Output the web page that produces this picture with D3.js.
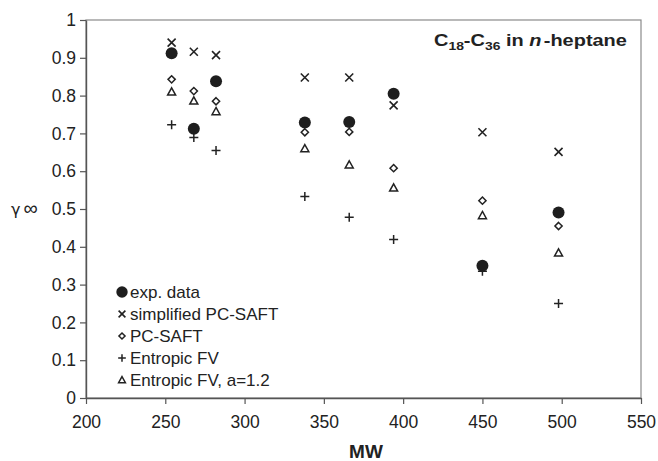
<!DOCTYPE html>
<html>
<head>
<meta charset="utf-8">
<script src="https://cdn.jsdelivr.net/npm/d3@7"></script>
<style>
  body { margin: 0; background: #fff; }
  text { font-family: "Liberation Sans", Arial, sans-serif; fill: #222; }
</style>
</head>
<body>
<div id="chart"></div>
<script>
// molecular weights of the alkanes
var mw = [254, 268, 282, 338, 366, 394, 450, 498];

var expData   = [0.912, 0.712, 0.838, 0.729, 0.730, 0.805, 0.350, 0.491];
var simpSaft  = [0.940, 0.916, 0.907, 0.848, 0.848, 0.774, 0.703, 0.651];
var pcSaft    = [0.843, 0.812, 0.785, 0.703, 0.704, 0.608, 0.522, 0.455];
var entFV     = [0.723, 0.689, 0.655, 0.533, 0.478, 0.419, 0.335, 0.250];
var entFV12   = [0.810, 0.786, 0.758, 0.660, 0.617, 0.556, 0.483, 0.384];

var xTicks = [200, 250, 300, 350, 400, 450, 500, 550];
var yTicks = [0, 0.1, 0.2, 0.3, 0.4, 0.5, 0.6, 0.7, 0.8, 0.9, 1];

var seriesNames = ["exp. data", "simplified PC-SAFT", "PC-SAFT", "Entropic FV", "Entropic FV, a=1.2"];
var seriesKinds = ["circle", "cross", "diamond", "plus", "triangle"];
var seriesVals = [expData, simpSaft, pcSaft, entFV, entFV12];

var width = 658, height = 461;
var plotL = 86, plotR = 641, plotT = 20, plotB = 398;

var svg = d3.select("#chart").append("svg")
    .attr("width", width)
    .attr("height", height);

var x = d3.scaleLinear().domain([200, 550]).range([plotL, plotR]);
var y = d3.scaleLinear().domain([0, 1]).range([plotB, plotT]);

// frame
svg.append("rect")
    .attr("x", plotL).attr("y", plotT)
    .attr("width", plotR - plotL).attr("height", plotB - plotT)
    .attr("fill", "none")
    .attr("stroke", "#8a8a8a")
    .attr("stroke-width", 1.2);

var xAxis = svg.append("g")
    .attr("transform", "translate(0," + plotB + ")")
    .call(d3.axisBottom(x).tickValues(xTicks).tickSize(6).tickPadding(12).tickSizeOuter(0));
var yAxis = svg.append("g")
    .attr("transform", "translate(" + plotL + ",0)")
    .call(d3.axisLeft(y).tickValues(yTicks).tickSize(6).tickPadding(4).tickSizeOuter(0)
        .tickFormat(function(d){ return d === 0 || d === 1 ? d3.format("d")(d) : d3.format(".1f")(d); }));

[xAxis, yAxis].forEach(function(a){
    a.select(".domain").attr("stroke", "#555").attr("stroke-width", 1.4);
    a.selectAll(".tick line").attr("stroke", "#555").attr("stroke-width", 1.2);
    a.selectAll(".tick text")
        .style("font-family", "'Liberation Sans', Arial, sans-serif")
        .style("font-size", "17.5px")
        .attr("fill", "#222");
});

// axis titles
svg.append("text")
    .attr("x", 366)
    .attr("y", 458)
    .attr("text-anchor", "middle")
    .style("font-size", "19px")
    .style("font-weight", "bold")
    .text("MW");

var ylab = svg.append("text")
    .attr("x", 11)
    .attr("y", y(0.5) + 6);
ylab.append("tspan").style("font-family", "'DejaVu Sans', sans-serif").style("font-size", "16px").text("\u03B3");
ylab.append("tspan").attr("dx", 3).style("font-size", "20px").text("\u221E");

// title, stretched to the width it takes in the figure
var titleG = svg.append("g").attr("transform", "translate(434,46)");
var title = titleG.append("text")
    .attr("x", 0).attr("y", 0)
    .style("font-size", "16.5px")
    .style("font-weight", "bold");
title.append("tspan").text("C");
title.append("tspan").attr("dy", 4).style("font-size", "11.5px").text("18");
title.append("tspan").attr("dy", -4).text("-C");
title.append("tspan").attr("dy", 4).style("font-size", "11.5px").text("36");
title.append("tspan").attr("dy", -4).text(" in ");
title.append("tspan").style("font-style", "italic").text("n");
title.append("tspan").attr("dx", 2).text("-heptane");
var tw = title.node().getBBox().width;
titleG.attr("transform", "translate(434,46) scale(" + (193 / tw) + ",1)");

function drawMarker(g, kind, cx, cy, s) {
    var k = s || 1;
    if (kind === "circle") {
        g.append("circle").attr("cx", cx).attr("cy", cy).attr("r", 6 * k)
            .attr("fill", "#1e1e1e");
    } else if (kind === "cross") {
        var a = 4 * k;
        g.append("path")
            .attr("d", "M" + (cx - a) + "," + (cy - a) + "L" + (cx + a) + "," + (cy + a) +
                       "M" + (cx - a) + "," + (cy + a) + "L" + (cx + a) + "," + (cy - a))
            .attr("stroke", "#222").attr("stroke-width", 1.6).attr("fill", "none");
    } else if (kind === "diamond") {
        var d = 3.6 * k;
        g.append("path")
            .attr("d", "M" + cx + "," + (cy - d) + "L" + (cx + d) + "," + cy +
                       "L" + cx + "," + (cy + d) + "L" + (cx - d) + "," + cy + "Z")
            .attr("stroke", "#222").attr("stroke-width", 1.5).attr("fill", "#fff");
    } else if (kind === "plus") {
        var p = 4.5 * k;
        g.append("path")
            .attr("d", "M" + (cx - p) + "," + cy + "L" + (cx + p) + "," + cy +
                       "M" + cx + "," + (cy - p) + "L" + cx + "," + (cy + p))
            .attr("stroke", "#222").attr("stroke-width", 1.5).attr("fill", "none");
    } else if (kind === "triangle") {
        var t = 4 * k;
        g.append("path")
            .attr("d", "M" + cx + "," + (cy - t) + "L" + (cx + t) + "," + (cy + t * 0.8) +
                       "L" + (cx - t) + "," + (cy + t * 0.8) + "Z")
            .attr("stroke", "#222").attr("stroke-width", 1.5).attr("fill", "#fff");
    }
}

// points: open markers first, filled circles on top
var pts = svg.append("g");
var order = [4, 2, 3, 1, 0];
order.forEach(function(si){
    seriesVals[si].forEach(function(v, i){
        drawMarker(pts, seriesKinds[si], x(mw[i]), y(v));
    });
});

// legend
var leg = svg.append("g");
seriesNames.forEach(function(name, i){
    var ly = 292 + i * 22;
    drawMarker(leg, seriesKinds[i], 122, ly, i === 0 ? 0.95 : 0.85);
    leg.append("text")
        .attr("x", 130)
        .attr("y", ly + 6)
        .style("font-size", "17px")
        .text(name);
});
</script>
</body>
</html>
